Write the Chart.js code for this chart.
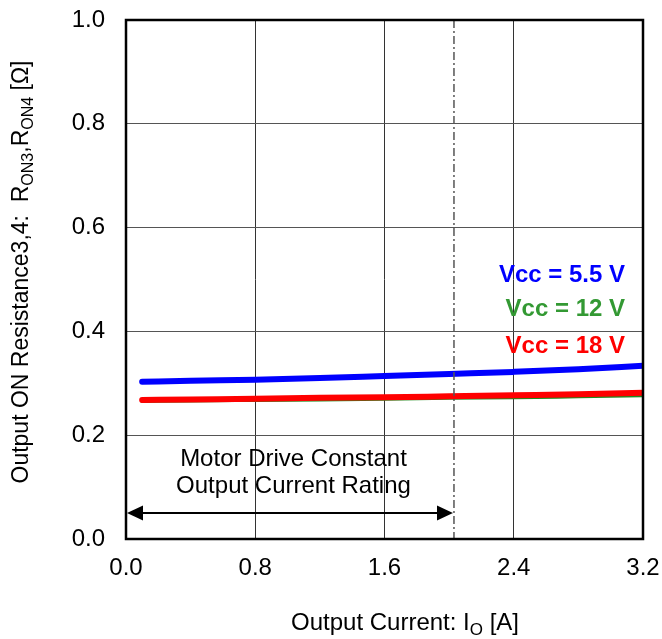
<!DOCTYPE html>
<html>
<head>
<meta charset="utf-8">
<script src="https://cdn.jsdelivr.net/npm/chart.js@4.4.0/dist/chart.umd.min.js"></script>
<style>
  html, body { margin: 0; padding: 0; background: #fff; }
  #wrap { width: 662px; height: 639px; position: relative; }
</style>
</head>
<body>
<div id="wrap"><canvas id="chart"></canvas></div>
<script>
// values
const currents = [0.1, 0.4, 0.8, 1.2, 1.6, 2.0, 2.4, 2.8, 3.2];
const ronVcc55 = [0.303, 0.305, 0.307, 0.310, 0.314, 0.318, 0.322, 0.327, 0.334];
const ronVcc12 = [0.266, 0.267, 0.268, 0.269, 0.270, 0.272, 0.273, 0.275, 0.277];
const ronVcc18 = [0.268, 0.269, 0.270, 0.272, 0.273, 0.275, 0.277, 0.279, 0.282];
const seriesLabels = ['Vcc = 5.5 V', 'Vcc = 12 V', 'Vcc = 18 V'];
const seriesColors = ['#0000ff', '#339933', '#ff0000'];
const xTicks = [0.0, 0.8, 1.6, 2.4, 3.2];
const yTicks = [0.0, 0.2, 0.4, 0.6, 0.8, 1.0];
const ratingCurrent = 2.03;   // dash-dot marker
const arrowY = 0.05;

const FONT = '"Liberation Sans", Arial, Helvetica, sans-serif';

const toPoints = (ys) => currents.map((x, i) => ({ x: x, y: ys[i] }));

// draw a string made of normal and subscript pieces
function drawParts(ctx, parts, size, align) {
    let w = 0;
    parts.forEach(p => {
        ctx.font = (p[1] ? Math.round(size * 0.7) : size) + 'px ' + FONT;
        w += ctx.measureText(p[0]).width;
    });
    let x = align === 'center' ? -w / 2 : 0;
    parts.forEach(p => {
        ctx.font = (p[1] ? Math.round(size * 0.7) : size) + 'px ' + FONT;
        ctx.fillText(p[0], x, p[1] ? 5 : 0);
        x += ctx.measureText(p[0]).width;
    });
}

const overlay = {
    id: 'overlay',
    afterDatasetsDraw(chart) {
        const ctx = chart.ctx;
        const xs = chart.scales.x, ys = chart.scales.y;
        const area = chart.chartArea;
        ctx.save();

        // dash-dot rating line
        const xr = xs.getPixelForValue(ratingCurrent);
        ctx.strokeStyle = '#555';
        ctx.lineWidth = 1.5;
        ctx.setLineDash([8, 3, 2, 3]);
        ctx.beginPath();
        ctx.moveTo(xr, area.top);
        ctx.lineTo(xr, area.bottom);
        ctx.stroke();
        ctx.setLineDash([]);

        // double arrow
        const ya = ys.getPixelForValue(arrowY);
        const x0 = xs.getPixelForValue(0) + 1;
        ctx.strokeStyle = '#000';
        ctx.fillStyle = '#000';
        ctx.lineWidth = 2;
        ctx.beginPath();
        ctx.moveTo(x0 + 10, ya);
        ctx.lineTo(xr - 10, ya);
        ctx.stroke();
        ctx.beginPath();
        ctx.moveTo(x0, ya);
        ctx.lineTo(x0 + 16, ya - 7.5);
        ctx.lineTo(x0 + 16, ya + 7.5);
        ctx.closePath();
        ctx.fill();
        ctx.beginPath();
        ctx.moveTo(xr - 1, ya);
        ctx.lineTo(xr - 17, ya - 7.5);
        ctx.lineTo(xr - 17, ya + 7.5);
        ctx.closePath();
        ctx.fill();

        // annotation text
        ctx.font = '24px ' + FONT;
        ctx.textAlign = 'center';
        ctx.textBaseline = 'alphabetic';
        ctx.fillText('Motor Drive Constant', 293.5, 466);
        ctx.fillText('Output Current Rating', 293.5, 493);

        // series labels
        ctx.font = 'bold 24px ' + FONT;
        ctx.textAlign = 'right';
        const baselines = [282, 316, 352.5];
        seriesLabels.forEach((t, i) => {
            ctx.fillStyle = seriesColors[i];
            ctx.fillText(t, 625, baselines[i]);
        });
        ctx.restore();
    },
    afterDraw(chart) {
        const ctx = chart.ctx;
        const area = chart.chartArea;
        ctx.save();
        ctx.strokeStyle = '#000';
        ctx.lineWidth = 2.5;
        ctx.strokeRect(area.left, area.top, area.right - area.left, area.bottom - area.top);

        ctx.fillStyle = '#000';
        ctx.textBaseline = 'alphabetic';
        ctx.textAlign = 'left';
        // x axis title
        ctx.save();
        ctx.translate(405, 630);
        drawParts(ctx, [['Output Current: I', false], ['O', true], [' [A]', false]], 24, 'center');
        ctx.restore();
        // y axis title
        ctx.save();
        ctx.translate(28, 272);
        ctx.rotate(-Math.PI / 2);
        drawParts(ctx, [['Output ON Resistance3,4:  R', false], ['ON3', true], [',R', false],
                        ['ON4', true], [' [\u03A9]', false]], 23, 'center');
        ctx.restore();
        ctx.restore();
    }
};

const ctx = document.getElementById('chart').getContext('2d');
new Chart(ctx, {
    type: 'line',
    data: {
        datasets: [
            { label: seriesLabels[0], data: toPoints(ronVcc55), borderColor: seriesColors[0], borderWidth: 6, order: 3 },
            { label: seriesLabels[1], data: toPoints(ronVcc12), borderColor: '#1f8a1f', borderWidth: 4, order: 2 },
            { label: seriesLabels[2], data: toPoints(ronVcc18), borderColor: seriesColors[2], borderWidth: 6, order: 1 }
        ].map(d => Object.assign(d, {
            pointRadius: 0,
            fill: false,
            tension: 0.4,
            cubicInterpolationMode: 'monotone',
            borderCapStyle: 'round'
        }))
    },
    options: {
        responsive: true,
        maintainAspectRatio: false,
        animation: false,
        layout: { padding: { top: 20, right: 19, left: 0, bottom: 0 } },
        plugins: {
            legend: { display: false },
            tooltip: { enabled: false },
            title: { display: false }
        },
        scales: {
            x: {
                type: 'linear',
                min: 0,
                max: 3.2,
                afterBuildTicks: (s) => { s.ticks = xTicks.map(v => ({ value: v })); },
                afterFit: (s) => { s.height = 100; s.paddingLeft = 0; s.paddingRight = 0; },
                grid: { color: '#333', lineWidth: 1, drawTicks: false },
                border: { display: false },
                ticks: {
                    padding: 15,
                    color: '#000',
                    font: { size: 24, family: FONT },
                    maxRotation: 0,
                    callback: (v) => Number(v).toFixed(1)
                }
            },
            y: {
                type: 'linear',
                min: 0,
                max: 1,
                afterBuildTicks: (s) => { s.ticks = yTicks.map(v => ({ value: v })); },
                afterFit: (s) => { s.width = 126; s.paddingTop = 0; s.paddingBottom = 0; },
                grid: { color: '#555', lineWidth: 1, drawTicks: false },
                border: { display: false },
                ticks: {
                    padding: 21,
                    color: '#000',
                    font: { size: 24, family: FONT },
                    callback: (v) => Number(v).toFixed(1)
                }
            }
        }
    },
    plugins: [overlay]
});
</script>
</body>
</html>
